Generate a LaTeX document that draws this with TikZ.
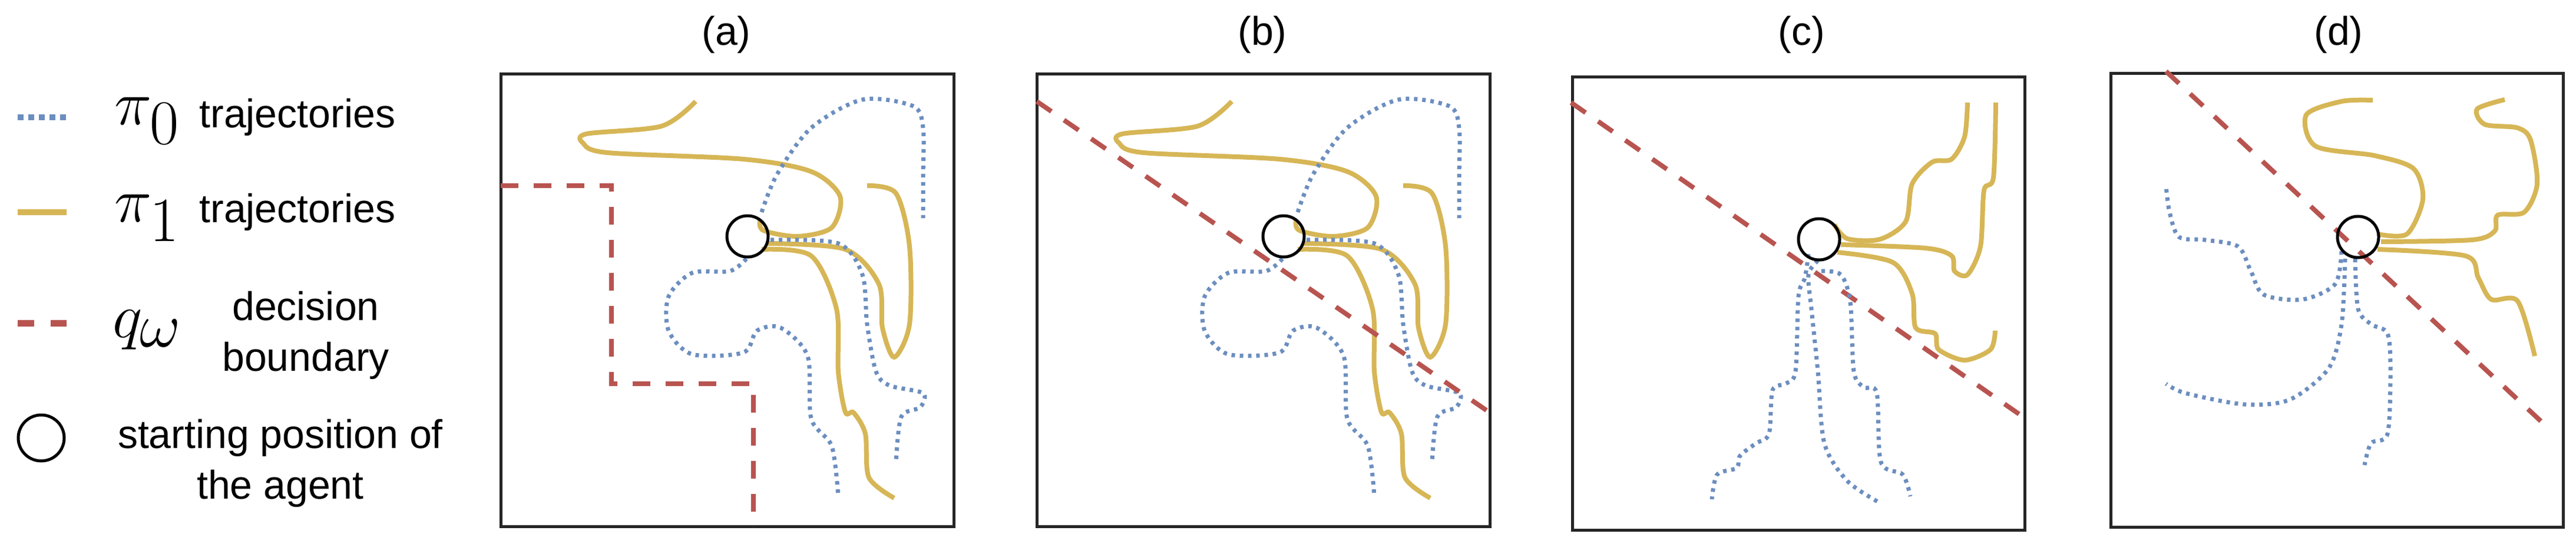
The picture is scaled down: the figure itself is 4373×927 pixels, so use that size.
\documentclass[tikz,border=0pt]{standalone}
\usepackage{fontspec}
\setmainfont{Liberation Sans}
\newcommand{\legmath}[1]{\scalebox{4.3}{$#1$}}
\begin{document}
\begin{tikzpicture}[x=1pt,y=-1pt,
  frame/.style={line width=5pt,draw=black!85},
  pi0/.style={line width=7pt,draw={rgb,255:red,108;green,142;blue,191},dash pattern=on 6pt off 8pt},
  pi1/.style={line width=8pt,draw={rgb,255:red,214;green,182;blue,86}},
  qw/.style={line width=8pt,draw={rgb,255:red,184;green,84;blue,80},dash pattern=on 30pt off 26pt},
  start/.style={circle,draw=black,line width=5pt,minimum size=70pt,inner sep=0pt},
  lbl/.style={font=\fontsize{68}{86}\selectfont,align=center}]
\useasboundingbox (0,0) rectangle (4373,927);
% legend
\draw[pi0,line width=10pt,dash pattern=on 10pt off 8pt] (30,199) -- (118,199);
\node[lbl] (l0) at (250,205) {\legmath{\pi_0}};
\node[lbl,anchor=west] (t0) at (335,199) {trajectories};
\draw[pi1,line width=10pt] (30,360) -- (113,360);
\node[lbl] (l1) at (250,370) {\legmath{\pi_1}};
\node[lbl,anchor=west] (t1) at (335,360) {trajectories};
\draw[qw,line width=11pt,dash pattern=on 28pt off 28pt] (30,548) -- (113,548);
\node[lbl] (l2) at (250,560) {\legmath{q_\omega}};
\node[lbl] (t2) at (519,569) {decision\\boundary};
\node[start,minimum size=78pt] (ls) at (70,743) {};
\node[lbl] (t3) at (476,786) {starting position of\\the agent};
% titles
\node[lbl] (ta) at (1233,59) {(a)};
\node[lbl] (tb) at (2143,59) {(b)};
\node[lbl] (tc) at (3058,59) {(c)};
\node[lbl] (td) at (3970,59) {(d)};
% panels a and b
\foreach \dx/\nm in {0/a,910/b}{
\begin{scope}[xshift=\dx pt]
\draw[frame] (850,125) rectangle (1619,893);
\draw[pi1] plot[smooth] coordinates {(1181,172) (1123,214) (996,227) (990,243) (1031,259) (1262,270) (1377,291) (1426,333) (1412,386) (1354,401) (1296,391) (1290,373)};
\draw[pi1] plot[smooth] coordinates {(1302,413) (1435,423) (1492,482) (1498,556) (1518,606) (1544,550) (1544,418) (1521,328) (1472,315)};
\draw[pi1] plot[smooth] coordinates {(1293,423) (1377,434) (1420,524) (1423,630) (1435,699) (1449,700) (1469,736) (1475,810) (1518,845)};
\draw[pi0] plot[smooth] coordinates {(1293,360) (1319,296) (1377,217) (1464,169) (1550,180) (1567,217) (1567,300) (1567,370)};
\draw[pi0] plot[smooth] coordinates {(1267,439) (1239,460) (1175,463) (1135,503) (1135,561) (1175,601) (1262,598) (1285,561) (1325,556) (1371,604) (1377,710) (1412,757) (1423,842)};
\draw[pi0] plot[smooth] coordinates {(1308,407) (1423,413) (1464,466) (1472,550) (1487,630) (1510,654) (1567,667) (1562,691) (1530,707) (1521,784)};
\node[start] (s\nm) at (1269,401) {};
\end{scope}}
\draw[qw] (850,315) -- (1038,315) -- (1038,651) -- (1279,651) -- (1279,894);
\draw[qw] (1760,172) -- (2529,700);
% panel c
\draw[frame] (2669,130) rectangle (3437,899);
\draw[qw] (2667,174) -- (3434,707);
\draw[pi1] plot[smooth] coordinates {(3114,381) (3136,405) (3191,406) (3235,376) (3246,312) (3280,275) (3313,270) (3335,232) (3340,174)};
\draw[pi1] plot[smooth] coordinates {(3125,415) (3269,421) (3313,434) (3318,460) (3340,466) (3362,418) (3368,323) (3384,301) (3388,174)};
\draw[pi1] plot[smooth] coordinates {(3119,428) (3213,445) (3246,498) (3252,556) (3285,566) (3291,593) (3335,611) (3379,593) (3387,561)};
\draw[pi0] plot[smooth] coordinates {(3070,431) (3064,471) (3053,503) (3048,630) (3031,651) (3009,662) (3003,736) (2981,752) (2954,773) (2948,794) (2915,805) (2906,847)};
\draw[pi0] plot[smooth] coordinates {(3086,442) (3070,466) (3075,524) (3086,630) (3097,752) (3136,816) (3191,853)};
\draw[pi0] plot[smooth] coordinates {(3092,460) (3125,466) (3141,513) (3147,630) (3164,657) (3186,667) (3193,784) (3230,805) (3243,842)};
\node[start] (sc) at (3088,406) {};
% panel d
\draw[frame] (3583,124) rectangle (4351,894);
\draw[qw] (3677,121) -- (4331,731);
\draw[pi1] plot[smooth] coordinates {(4036,397) (4086,397) (4113,338) (4097,286) (4031,264) (3931,248) (3915,195) (3975,172) (4028,170)};
\draw[pi1] plot[smooth] coordinates {(4042,410) (4196,407) (4235,392) (4240,365) (4285,360) (4307,312) (4296,238) (4274,217) (4218,211) (4205,185) (4252,169)};
\draw[pi1] plot[smooth] coordinates {(4036,423) (4185,434) (4207,471) (4229,508) (4274,511) (4303,604)};
\draw[pi0] plot[smooth] coordinates {(3975,426) (3964,482) (3909,508) (3843,500) (3821,460) (3799,418) (3743,407) (3699,402) (3683,360) (3677,316)};
\draw[pi0] plot[smooth] coordinates {(3981,439) (3975,550) (3953,625) (3887,678) (3810,686) (3710,667) (3677,651)};
\draw[pi0] plot[smooth] coordinates {(3998,439) (4003,524) (4025,550) (4053,566) (4058,630) (4053,736) (4025,752) (4014,789)};
\node[start] (sd) at (4003,402) {};
\end{tikzpicture}
\end{document}
